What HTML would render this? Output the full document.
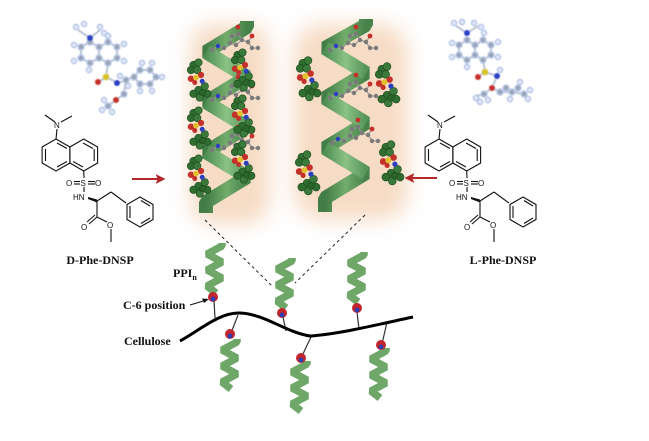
<!DOCTYPE html>
<html><head><meta charset="utf-8"><style>
html,body{margin:0;padding:0;background:#fff;}
svg{display:block;}
text{font-family:"Liberation Serif",serif;font-weight:bold;fill:#111;}
.ch text{font-family:"Liberation Sans",sans-serif;font-weight:normal;font-size:8px;}
</style></head><body>
<svg width="649" height="441" viewBox="0 0 649 441" xmlns="http://www.w3.org/2000/svg">
<defs>
  <filter id="blur" x="-40%" y="-30%" width="180%" height="160%"><feGaussianBlur stdDeviation="10"/></filter>
  <filter id="sblur" x="-20%" y="-20%" width="140%" height="140%"><feGaussianBlur stdDeviation="0.6"/></filter>
  <linearGradient id="gF" x1="0" y1="0" x2="1" y2="0">
    <stop offset="0" stop-color="#4f8f53"/><stop offset="0.5" stop-color="#8cc285"/><stop offset="1" stop-color="#55955a"/>
  </linearGradient>
  <linearGradient id="gB" x1="0" y1="0" x2="1" y2="0">
    <stop offset="0" stop-color="#427c46"/><stop offset="0.5" stop-color="#72ad6c"/><stop offset="1" stop-color="#46824a"/>
  </linearGradient>
  <symbol id="cl" overflow="visible">
    <g stroke="#1d4a1e" stroke-width="0.5">
      <circle cx="6" cy="4" r="3" fill="#2f6e30"/><circle cx="10" cy="2" r="3" fill="#3a7a3a"/>
      <circle cx="4" cy="8" r="3" fill="#2f6e30"/><circle cx="9" cy="8" r="3" fill="#3a7a3a"/>
      <circle cx="10" cy="24" r="3" fill="#2f6e30"/><circle cx="15" cy="21" r="3" fill="#3a7a3a"/>
      <circle cx="17" cy="27" r="3" fill="#2f6e30"/><circle cx="11" cy="30" r="3" fill="#3a7a3a"/>
      <circle cx="6" cy="27" r="3" fill="#2f6e30"/><circle cx="13" cy="26" r="2.5" fill="#2a662b"/>
    </g>
    <circle cx="4" cy="15" r="2.6" fill="#c4302a"/><circle cx="12" cy="12" r="2.5" fill="#c4302a"/>
    <circle cx="8" cy="14" r="2.3" fill="#e2c22c"/><circle cx="13" cy="17" r="2" fill="#2b3fc0"/>
    <circle cx="7" cy="18" r="2" fill="#c4302a"/>
  </symbol>
  <symbol id="gc" overflow="visible">
    <g stroke="#999" stroke-width="1.2" fill="none">
      <polyline points="0,18 6,14 12,16 18,11 24,13 30,8 36,10 40,4"/>
      <polyline points="18,11 20,4 26,2 30,8"/>
      <polyline points="36,10 40,16 46,16"/>
    </g>
    <g fill="#7a7a7a">
      <circle cx="0" cy="18" r="2.2"/><circle cx="6" cy="14" r="2.2"/><circle cx="12" cy="16" r="2.2"/>
      <circle cx="18" cy="11" r="2.2"/><circle cx="24" cy="13" r="2.2"/><circle cx="30" cy="8" r="2.2"/>
      <circle cx="36" cy="10" r="2.2"/><circle cx="20" cy="4" r="2.2"/><circle cx="26" cy="2" r="2.2"/>
      <circle cx="40" cy="16" r="2.2"/><circle cx="46" cy="16" r="2.2"/>
    </g>
    <circle cx="40" cy="4" r="2.4" fill="#c4302a"/><circle cx="26" cy="-5" r="2.4" fill="#c4302a"/>
    <circle cx="6" cy="14" r="2.2" fill="#2b3fc0"/>
  </symbol>
  <symbol id="sh" overflow="visible">
    <polyline points="18,0 18,3 3,11 18,19 3,27 18,35 3,43 12,50" fill="none" stroke="#6ea767" stroke-width="7.5" stroke-linejoin="bevel"/>
  </symbol>
  <symbol id="bead" overflow="visible">
    <circle cx="0" cy="0" r="5" fill="#c2252b"/><circle cx="0" cy="2" r="2.4" fill="#2c3fb0"/>
  </symbol>
  <symbol id="mol" overflow="visible">
    <g fill="none" stroke="#111" stroke-width="1.1">
      <line x1="45" y1="115" x2="55" y2="122"/><line x1="61" y1="122" x2="72" y2="116"/>
      <line x1="57" y1="129" x2="56" y2="139"/>
      <polygon points="56,139 69.9,147 69.9,163 56,171 42.1,163 42.1,147"/>
      <polygon points="83.7,139 97.6,147 97.6,163 83.7,171 69.9,163 69.9,147"/>
      <line x1="45.5" y1="149" x2="45.5" y2="161"/><line x1="57" y1="167" x2="67" y2="161.5"/><line x1="57" y1="143" x2="67" y2="148.5"/>
      <line x1="94.2" y1="149" x2="94.2" y2="161"/><line x1="83" y1="143" x2="93" y2="148.5"/><line x1="83" y1="167" x2="73" y2="161.5"/>
      <line x1="83.7" y1="171" x2="84" y2="178"/>
      <line x1="74" y1="181.5" x2="80" y2="181.5"/><line x1="74" y1="184" x2="80" y2="184"/>
      <line x1="88" y1="181.5" x2="95" y2="181.5"/><line x1="88" y1="184" x2="95" y2="184"/>
      <line x1="84" y1="187" x2="84" y2="192"/>
      <line x1="97" y1="201" x2="111" y2="192"/><line x1="111" y1="192" x2="126" y2="203"/>
      <polygon points="140,197 153,204.5 153,219.5 140,227 127,219.5 127,204.5"/>
      <line x1="130" y1="206" x2="130" y2="218"/><line x1="141" y1="223.5" x2="150" y2="218"/><line x1="141" y1="200.5" x2="150" y2="206"/>
      <line x1="97" y1="201" x2="97" y2="217"/>
      <line x1="97" y1="217" x2="89" y2="224"/><line x1="95" y1="215" x2="87" y2="222"/>
      <line x1="97" y1="217" x2="107" y2="222"/>
      <line x1="111" y1="229" x2="111" y2="242"/>
    </g>
    <polygon points="88,197 97,199.5 97,202.5 88,199" fill="#111"/>
    <g class="ch">
      <text x="54" y="128">N</text>
      <text x="80.5" y="186">S</text>
      <text x="66" y="186">O</text><text x="95" y="186">O</text>
      <text x="73" y="200">HN</text>
      <text x="81" y="230">O</text>
      <text x="107" y="228">O</text>
    </g>
  </symbol>
</defs>

<rect width="649" height="441" fill="#fff"/>

<!-- orange glows -->
<g filter="url(#blur)" opacity="0.55">
  <rect x="190" y="24" width="80" height="200" rx="24" fill="#efbf96"/>
  <rect x="294" y="24" width="114" height="196" rx="28" fill="#efbf96"/>
</g>

<!-- left big helix -->
<g stroke-width="14" fill="none" stroke-linejoin="bevel">
  <polyline points="247,21 247,27 206,52 247,77 206,102 247,127 206,152 247,177 206,202 206,213" stroke="url(#gB)"/>
  <polyline points="206,52 247,77" stroke="url(#gF)"/>
  <polyline points="206,102 247,127" stroke="url(#gF)"/>
  <polyline points="206,152 247,177" stroke="url(#gF)"/>
</g>
<!-- right big helix -->
<g stroke-width="14" fill="none" stroke-linejoin="bevel">
  <polyline points="366,19 366,25 325,48 366,73 325,98 366,123 325,148 366,173 325,198 325,212" stroke="url(#gB)"/>
  <polyline points="325,48 366,73" stroke="url(#gF)"/>
  <polyline points="325,98 366,123" stroke="url(#gF)"/>
  <polyline points="325,148 366,173" stroke="url(#gF)"/>
</g>

<!-- gray chains on helices -->
<use href="#gc" x="212" y="32"/>
<use href="#gc" x="212" y="82"/>
<use href="#gc" x="212" y="132"/>
<use href="#gc" x="330" y="32"/>
<use href="#gc" x="330" y="80"/>
<use href="#gc" x="332" y="125"/>

<!-- green clusters -->
<use href="#cl" transform="translate(186,60) scale(1.25)"/>
<use href="#cl" transform="translate(186,108) scale(1.25)"/>
<use href="#cl" transform="translate(186,156) scale(1.25)"/>
<use href="#cl" transform="translate(230,50) scale(1.25)"/>
<use href="#cl" transform="translate(230,96) scale(1.25)"/>
<use href="#cl" transform="translate(230,142) scale(1.25)"/>
<use href="#cl" transform="translate(295,58) scale(1.3)"/>
<use href="#cl" transform="translate(294,152) scale(1.3)"/>
<use href="#cl" transform="translate(374,64) scale(1.3)"/>
<use href="#cl" transform="translate(378,142) scale(1.3)"/>

<!-- ball-and-stick molecules -->
<g filter="url(#sblur)">
  <g stroke="#b9c3d6" stroke-width="2" fill="none">
    <polyline points="78,30 90,38 100,30"/>
    <polygon points="90,42 99,47 99,58 90,63 81,58 81,47"/>
    <polygon points="108,42 117,47 117,58 108,63 99,58 99,47"/>
    <polyline points="108,63 106,77 99,82"/>
    <polyline points="106,77 118,83 126,80 134,77"/>
    <polygon points="140,70 150,70 156,77 150,84 140,84 134,77"/>
    <polyline points="126,80 124,94 116,100 108,106"/>
  </g>
  <g fill="#9aa3b3" stroke="#b8c8ea" stroke-width="1.4">
    <circle cx="90" cy="42" r="3"/><circle cx="99" cy="47" r="3"/><circle cx="99" cy="58" r="3"/><circle cx="90" cy="63" r="3"/>
    <circle cx="81" cy="58" r="3"/><circle cx="81" cy="47" r="3"/><circle cx="108" cy="42" r="3"/><circle cx="117" cy="47" r="3"/>
    <circle cx="117" cy="58" r="3"/><circle cx="108" cy="63" r="3"/><circle cx="126" cy="80" r="3"/>
    <circle cx="140" cy="70" r="3"/><circle cx="150" cy="70" r="3"/><circle cx="156" cy="77" r="3"/><circle cx="150" cy="84" r="3"/>
    <circle cx="140" cy="84" r="3"/><circle cx="134" cy="77" r="3"/><circle cx="124" cy="94" r="3"/><circle cx="108" cy="106" r="3"/>
  </g>
  <g fill="#e2e8f6" stroke="#a9bde6" stroke-width="1.2">
    <circle cx="76" cy="27" r="2.6"/><circle cx="84" cy="24" r="2.6"/><circle cx="100" cy="27" r="2.6"/><circle cx="104" cy="33" r="2.6"/>
    <circle cx="74" cy="45" r="2.6"/><circle cx="74" cy="61" r="2.6"/><circle cx="89" cy="70" r="2.6"/><circle cx="108" cy="36" r="2.6"/>
    <circle cx="124" cy="44" r="2.6"/><circle cx="124" cy="61" r="2.6"/><circle cx="142" cy="63" r="2.6"/><circle cx="152" cy="63" r="2.6"/>
    <circle cx="162" cy="77" r="2.6"/><circle cx="152" cy="91" r="2.6"/><circle cx="140" cy="91" r="2.6"/><circle cx="120" cy="76" r="2.6"/>
    <circle cx="102" cy="110" r="2.6"/><circle cx="112" cy="112" r="2.6"/><circle cx="104" cy="100" r="2.6"/><circle cx="128" cy="86" r="2.6"/>
  </g>
  <circle cx="90" cy="38" r="3" fill="#2b3fc8"/>
  <circle cx="106" cy="77" r="3.3" fill="#d8c42a"/>
  <circle cx="98" cy="82" r="3" fill="#c4302a"/>
  <circle cx="117" cy="83" r="3" fill="#2b3fc8"/>
  <circle cx="116" cy="100" r="3" fill="#c4302a"/>
</g>
<g filter="url(#sblur)">
  <g stroke="#b9c3d6" stroke-width="2" fill="none">
    <polyline points="456,26 467,33 478,26"/>
    <polygon points="467,40 475,45 475,55 467,60 459,55 459,45"/>
    <polygon points="483,40 491,45 491,55 483,60 475,55 475,45"/>
    <polyline points="483,60 485,72 478,77"/>
    <polyline points="485,72 497,76 492,88 500,92 512,92 524,94"/>
    <polyline points="492,88 484,94 476,96"/>
  </g>
  <g fill="#9aa3b3" stroke="#b8c8ea" stroke-width="1.4">
    <circle cx="467" cy="40" r="3"/><circle cx="475" cy="45" r="3"/><circle cx="475" cy="55" r="3"/><circle cx="467" cy="60" r="3"/>
    <circle cx="459" cy="55" r="3"/><circle cx="459" cy="45" r="3"/><circle cx="483" cy="40" r="3"/><circle cx="491" cy="45" r="3"/>
    <circle cx="491" cy="55" r="3"/><circle cx="483" cy="60" r="3"/><circle cx="500" cy="92" r="3"/><circle cx="506" cy="88" r="3"/>
    <circle cx="512" cy="92" r="3"/><circle cx="518" cy="88" r="3"/><circle cx="524" cy="94" r="3"/><circle cx="484" cy="94" r="3"/>
  </g>
  <g fill="#e2e8f6" stroke="#a9bde6" stroke-width="1.2">
    <circle cx="454" cy="23" r="2.6"/><circle cx="462" cy="22" r="2.6"/><circle cx="474" cy="23" r="2.6"/><circle cx="481" cy="27" r="2.6"/>
    <circle cx="452" cy="43" r="2.6"/><circle cx="452" cy="57" r="2.6"/><circle cx="467" cy="67" r="2.6"/><circle cx="484" cy="33" r="2.6"/>
    <circle cx="498" cy="42" r="2.6"/><circle cx="498" cy="57" r="2.6"/><circle cx="500" cy="70" r="2.6"/><circle cx="528" cy="99" r="2.6"/>
    <circle cx="530" cy="90" r="2.6"/><circle cx="476" cy="98" r="2.6"/><circle cx="480" cy="102" r="2.6"/><circle cx="488" cy="100" r="2.6"/>
    <circle cx="520" cy="82" r="2.6"/><circle cx="510" cy="99" r="2.6"/>
  </g>
  <circle cx="467" cy="33" r="3" fill="#2b3fc8"/>
  <circle cx="485" cy="72" r="3.3" fill="#d8c42a"/>
  <circle cx="478" cy="77" r="3" fill="#c4302a"/>
  <circle cx="497" cy="76" r="3" fill="#2b3fc8"/>
  <circle cx="492" cy="88" r="3" fill="#c4302a"/>
</g>

<!-- 2D chemical structures -->
<use href="#mol" x="0" y="0"/>
<use href="#mol" x="383" y="0"/>

<!-- red arrows -->
<g stroke="#b3262a" stroke-width="2" fill="#b3262a">
  <line x1="132" y1="179" x2="158" y2="179"/>
  <polygon points="165,179 156,174.5 158,179 156,183.5" stroke-width="0.5"/>
  <line x1="437" y1="178" x2="412" y2="178"/>
  <polygon points="405,178 414,173.5 412,178 414,182.5" stroke-width="0.5"/>
</g>

<!-- dashed lines -->
<g stroke="#222" stroke-width="1" stroke-dasharray="3,3">
  <line x1="205" y1="220" x2="273" y2="287"/>
  <line x1="365" y1="215" x2="295" y2="283"/>
</g>

<!-- cellulose backbone and side chains -->
<g stroke="#333" stroke-width="1.2">
  <line x1="214" y1="301" x2="215" y2="318"/>
  <line x1="283" y1="317" x2="286" y2="331"/>
  <line x1="357" y1="312" x2="359" y2="329"/>
  <line x1="238" y1="315" x2="231" y2="333"/>
  <line x1="311" y1="337" x2="302" y2="356"/>
  <line x1="387" y1="322" x2="382" y2="344"/>
</g>
<path d="M180,341 C200,330 220,312 240,313 C265,314 285,332 310,336 C340,334 380,324 413,317" fill="none" stroke="#000" stroke-width="3"/>

<use href="#sh" x="204" y="243"/>
<use href="#sh" x="274" y="258"/>
<use href="#sh" x="346" y="252"/>
<use href="#sh" x="219" y="339"/>
<use href="#sh" x="289" y="361"/>
<use href="#sh" x="368" y="348"/>

<use href="#bead" x="213" y="297"/>
<use href="#bead" x="282" y="313"/>
<use href="#bead" x="357" y="308"/>
<use href="#bead" x="230" y="334"/>
<use href="#bead" x="301" y="358"/>
<use href="#bead" x="381" y="345"/>

<!-- C-6 arrow -->
<line x1="190" y1="305" x2="205" y2="300.5" stroke="#111" stroke-width="1"/>
<polygon points="209,299 202,298.5 204,303" fill="#111"/>

<!-- labels -->
<text x="100" y="264" font-size="12" text-anchor="middle">D-Phe-DNSP</text>
<text x="503" y="264" font-size="12" text-anchor="middle">L-Phe-DNSP</text>
<text x="173" y="277" font-size="12">PPI<tspan font-size="8" dy="3">n</tspan></text>
<text x="123" y="309" font-size="12">C-6 position</text>
<text x="124" y="345" font-size="12">Cellulose</text>
</svg>
</body></html>
